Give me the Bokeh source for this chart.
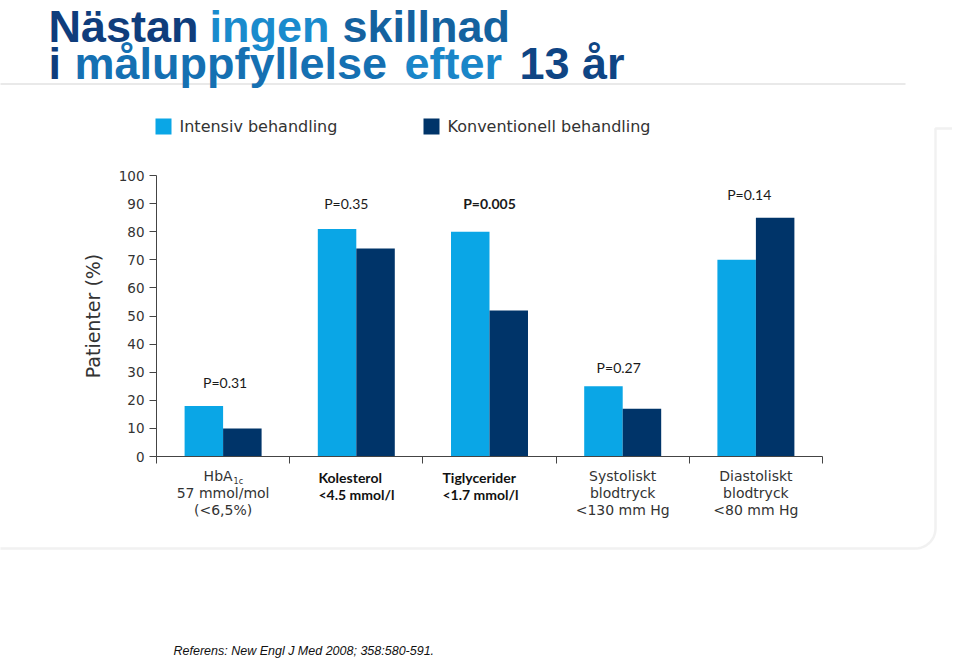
from bokeh.plotting import figure
from bokeh.models import Range1d, FixedTicker, Label, BoxAnnotation, PolyAnnotation, ColumnDataSource
from bokeh.embed import file_html
from bokeh.resources import INLINE
from bokeh.transform import dodge
import numpy as np

# ---------------- data ----------------
categories = ["HbA1c", "Kolesterol", "Tiglycerider", "Systoliskt blodtryck", "Diastoliskt blodtryck"]
intensiv = [18, 81, 80, 25, 70]
konventionell = [10, 74, 52, 17, 85]
series_names = ["Intensiv behandling", "Konventionell behandling"]
p_values = ["P=0.31", "P=0.35", "P=0.005", "P=0.27", "P=0.14"]
p_bold = [False, False, True, False, False]
y_ticks = [0, 10, 20, 30, 40, 50, 60, 70, 80, 90, 100]

LIGHT = "#0aa6e6"
DARK = "#003469"

# ---------------- geometry ----------------
# The plot frame fills the whole canvas; the axes are pinned at x=0 / y=0.
W, H = 952, 660
AX_L, AX_R = 156, 822      # pixel position of x = 0 and x = 5
AX_T, AX_B = 175, 456      # pixel position of y = 100 and y = 0
NCAT = len(categories)
SX = (AX_R - AX_L) / NCAT
SY = (AX_B - AX_T) / 100.0


def XP(px):
    return (px - AX_L) / SX


def YP(py):
    return (AX_B - py) / SY


p = figure(width=W, height=H,
           x_range=Range1d(XP(0), XP(W)), y_range=Range1d(YP(H), YP(0)),
           output_backend="svg", toolbar_location=None,
           min_border=0, min_border_left=0, min_border_right=0,
           min_border_top=0, min_border_bottom=0)
p.outline_line_color = None
p.background_fill_color = "white"
p.border_fill_color = "white"
p.xgrid.visible = False
p.ygrid.visible = False

src = ColumnDataSource(dict(x=[i + 0.5 for i in range(NCAT)],
                            intensiv=intensiv, konventionell=konventionell))
r1 = p.vbar(x=dodge("x", -0.1445), top="intensiv", width=0.289, source=src,
            fill_color=LIGHT, line_color=None)
r2 = p.vbar(x=dodge("x", 0.1445), top="konventionell", width=0.289, source=src,
            fill_color=DARK, line_color=None)

# axes (pinned)
p.yaxis.fixed_location = 0
p.yaxis.bounds = (0, 100)
p.yaxis.ticker = FixedTicker(ticks=y_ticks)
p.yaxis.minor_tick_line_color = None
p.yaxis.major_tick_in = 0
p.yaxis.major_tick_out = 7
p.yaxis.axis_line_color = "#444444"
p.yaxis.major_tick_line_color = "#444444"
p.yaxis.major_label_text_font = "DejaVu Sans"
p.yaxis.major_label_text_font_size = "13.5px"
p.yaxis.major_label_text_color = "#333333"
p.yaxis.axis_label = "Patienter (%)"
p.yaxis.axis_label_text_font = "DejaVu Sans"
p.yaxis.axis_label_text_font_size = "19px"
p.yaxis.axis_label_text_font_style = "normal"
p.yaxis.axis_label_text_color = "#333333"
p.yaxis.axis_label_standoff = 12

p.xaxis.fixed_location = 0
p.xaxis.bounds = (0, NCAT)
p.xaxis.ticker = FixedTicker(ticks=list(range(NCAT + 1)))
p.xaxis.major_label_overrides = {i: "" for i in range(NCAT + 1)}
p.xaxis.minor_tick_line_color = None
p.xaxis.major_tick_in = 0
p.xaxis.major_tick_out = 7
p.xaxis.axis_line_color = "#444444"
p.xaxis.major_tick_line_color = "#444444"


def lab(text, px, py, size, font="DejaVu Sans", color="#333333", align="left",
        baseline="middle", style="normal"):
    p.add_layout(Label(x=XP(px), y=YP(py), text=text, text_font=font,
                       text_font_size=size, text_color=color, text_align=align,
                       text_baseline=baseline, text_font_style=style))


def box(l, r, t, b, color):
    p.add_layout(BoxAnnotation(left=XP(l), right=XP(r), top=YP(t), bottom=YP(b),
                               fill_color=color, fill_alpha=1, line_color=None))


# decorations: title rule and slide frame
box(-10, 905, 82.5, 84.5, "#e9e9e9")
ang = np.linspace(0, np.pi / 2, 12)
R = 20
arc_x = list(935 - R + R * np.cos(ang))
arc_y = list(528 + R * np.sin(ang))
xs = [990, 935] + arc_x + [-30, -30, 990]
ys = [128, 128] + arc_y + [548, 700, 700]
p.add_layout(PolyAnnotation(xs=[XP(v) for v in xs], ys=[YP(v) for v in ys],
                            fill_alpha=0, line_color="#d2d2d2", line_width=2.5))

# title (word colours mimic the slide's gradient)
TF = "Liberation Sans"
TS = "45px"
title_words = [
    ("Nästan", 48, 0, "#0f3d7c"), ("ingen", 209, 0, "#1a8bcd"), ("skillnad", 342, 0, "#14629f"),
    ("i", 48, 37, "#0f3d7c"), ("måluppfyllelse", 74, 37, "#1570b2"),
    ("efter", 404, 37, "#1a86c8"), ("13 år", 519, 37, "#0f4584"),
]
for w, x0, y0, c in title_words:
    lab(w, x0, y0, TS, font=TF, color=c, baseline="top", style="bold")

# legend (manual)
for (x0, name, col) in [(155, series_names[0], LIGHT), (423, series_names[1], DARK)]:
    box(x0, x0 + 16, 118, 134, col)
    lab(name, x0 + 24, 126, "16px")

# p values
p_dx = [0.015, -0.075, 0, -0.03, -0.05]
p_y = [26.3, 90, 90, 31.7, 93.2]
for i, (t, b) in enumerate(zip(p_values, p_bold)):
    p.add_layout(Label(x=i + 0.5 + p_dx[i], y=p_y[i], text=t, text_font="Lato",
                       text_font_size="14px", text_color="#1a1a1a", text_align="center",
                       text_baseline="middle", text_font_style="bold" if b else "normal"))

# category labels
cx = [AX_L + (i + 0.5) * SX for i in range(NCAT)]
lab("HbA", cx[0] + 9.5, 475, "14px", align="right")
lab("1c", cx[0] + 10.5, 481, "8px", align="left")
lab("57 mmol/mol", cx[0], 492, "14px", align="center")
lab("(<6,5%)", cx[0], 509, "14px", align="center")

lab("Kolesterol", 318, 477, "14px", font="Lato", color="#111111", style="bold")
lab("<4.5 mmol/l", 318, 494, "14px", font="Lato", color="#111111", style="bold")
lab("Tiglycerider", 442, 477, "14px", font="Lato", color="#111111", style="bold")
lab("<1.7 mmol/l", 442, 494, "14px", font="Lato", color="#111111", style="bold")

lab("Systoliskt", cx[3], 475, "14px", align="center")
lab("blodtryck", cx[3], 492, "14px", align="center")
lab("<130 mm Hg", cx[3], 509, "14px", align="center")
lab("Diastoliskt", cx[4], 475, "14px", align="center")
lab("blodtryck", cx[4], 492, "14px", align="center")
lab("<80 mm Hg", cx[4], 509, "14px", align="center")

# footer
lab("Referens: New Engl J Med 2008; 358:580-591.", 173, 650, "12.5px",
    font="Liberation Sans", color="#111111", style="italic")

open("out.html", "w").write(file_html(p, INLINE))
